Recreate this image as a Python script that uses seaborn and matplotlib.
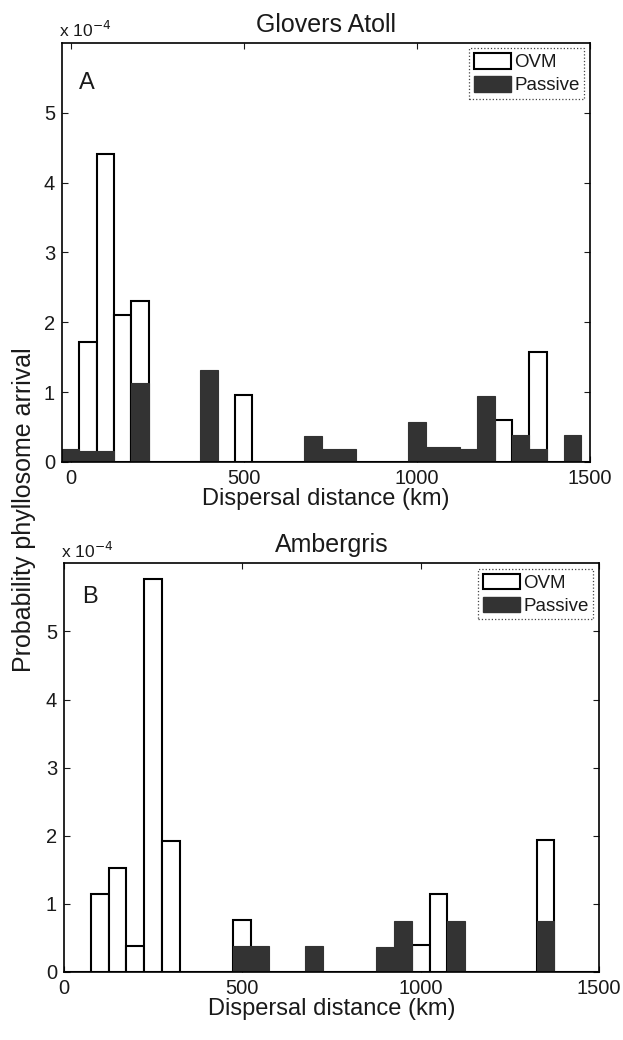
import numpy as np
import pandas as pd
import matplotlib
matplotlib.use('Agg')
import matplotlib.pyplot as plt
from matplotlib.patches import Patch
import seaborn as sns

# Bar heights in units of 1e-4, bin centres in km (50 km bins)
ovm_a_km = [50, 100, 150, 200, 500, 1250, 1350]
ovm_a = [1.72, 4.41, 2.10, 2.30, 0.96, 0.60, 1.57]
passive_a_km = [0, 50, 100, 200, 400, 700, 750, 800, 1000, 1050, 1100, 1150, 1200, 1300, 1350, 1450]
passive_a = [0.18, 0.15, 0.16, 1.13, 1.32, 0.37, 0.18, 0.18, 0.57, 0.21, 0.21, 0.19, 0.95, 0.38, 0.19, 0.38]

ovm_b_km = [100, 150, 200, 250, 300, 500, 1000, 1050, 1350]
ovm_b = [1.14, 1.53, 0.38, 5.77, 1.93, 0.77, 0.39, 1.15, 1.94]
passive_b_km = [500, 550, 700, 900, 950, 1100, 1350]
passive_b = [0.38, 0.38, 0.38, 0.37, 0.75, 0.75, 0.75]

x_ticks = [0, 500, 1000, 1500]
y_ticks = [0, 1, 2, 3, 4, 5]

sns.set_style('white')
plt.rcParams['font.family'] = ['Liberation Sans', 'DejaVu Sans']
plt.rcParams['text.color'] = '#1a1a1a'
plt.rcParams['axes.labelcolor'] = '#1a1a1a'
plt.rcParams['xtick.color'] = '#1a1a1a'
plt.rcParams['ytick.color'] = '#1a1a1a'

dark = '#333333'
bins = list(np.arange(-25, 1526, 50))

fig = plt.figure(figsize=(6.23, 10.4), dpi=100)
ax_a = fig.add_axes([0.0995, 0.5558, 0.8475, 0.403])
ax_b = fig.add_axes([0.1027, 0.0654, 0.8587, 0.393])


def draw_panel(ax, ovm_km, ovm, pas_km, pas, title, letter, xlim, letter_y):
    d_ovm = pd.DataFrame({'km': ovm_km, 'p': ovm})
    d_pas = pd.DataFrame({'km': pas_km, 'p': pas})
    sns.histplot(data=d_ovm, x='km', weights='p', bins=bins, color='white', edgecolor='black',
                 linewidth=1.5, alpha=1, ax=ax)
    sns.histplot(data=d_pas, x='km', weights='p', bins=bins, color=dark, edgecolor=dark,
                 linewidth=0.8, alpha=1, ax=ax)
    ax.set_xlim(*xlim)
    ax.set_ylim(0, 6)
    ax.set_xticks(x_ticks)
    ax.set_yticks(y_ticks)
    ax.tick_params(direction='in', top=True, right=True, bottom=True, left=True,
                   length=4, width=0.8, labelsize=14.5, pad=5)
    for s in ax.spines.values():
        s.set_color('black')
        s.set_linewidth(1.2)
    ax.set_ylabel('')
    ax.set_xlabel('Dispersal distance (km)', fontsize=17, labelpad=0)
    ax.set_title(title, fontsize=18, pad=8)
    ax.text(-0.005, 1.006, 'x 10$^{-4}$', transform=ax.transAxes, ha='left', va='bottom', fontsize=12.5)
    ax.text(0.033, letter_y, letter, transform=ax.transAxes, ha='left', va='center', fontsize=17)
    handles = [Patch(facecolor='white', edgecolor='black', linewidth=1.5, label='OVM'),
               Patch(facecolor=dark, edgecolor=dark, label='Passive')]
    leg = ax.legend(handles=handles, loc='upper right', fontsize=13.5, handlelength=2.0,
                    handleheight=0.9, handletextpad=0.15, labelspacing=0.25, borderpad=0.25,
                    borderaxespad=0.3, fancybox=False, framealpha=1)
    leg.get_frame().set_linestyle(':')
    leg.get_frame().set_edgecolor('#444444')
    leg.get_frame().set_linewidth(0.9)


draw_panel(ax_a, ovm_a_km, ovm_a, passive_a_km, passive_a, 'Glovers Atoll', 'A', (-25, 1495), 0.905)
draw_panel(ax_b, ovm_b_km, ovm_b, passive_b_km, passive_b, 'Ambergris', 'B', (0, 1500), 0.917)

fig.text(0.038, 0.51, 'Probability phyllosome arrival', rotation=90, ha='center', va='center', fontsize=18)

fig.savefig('out.png', dpi=100)
